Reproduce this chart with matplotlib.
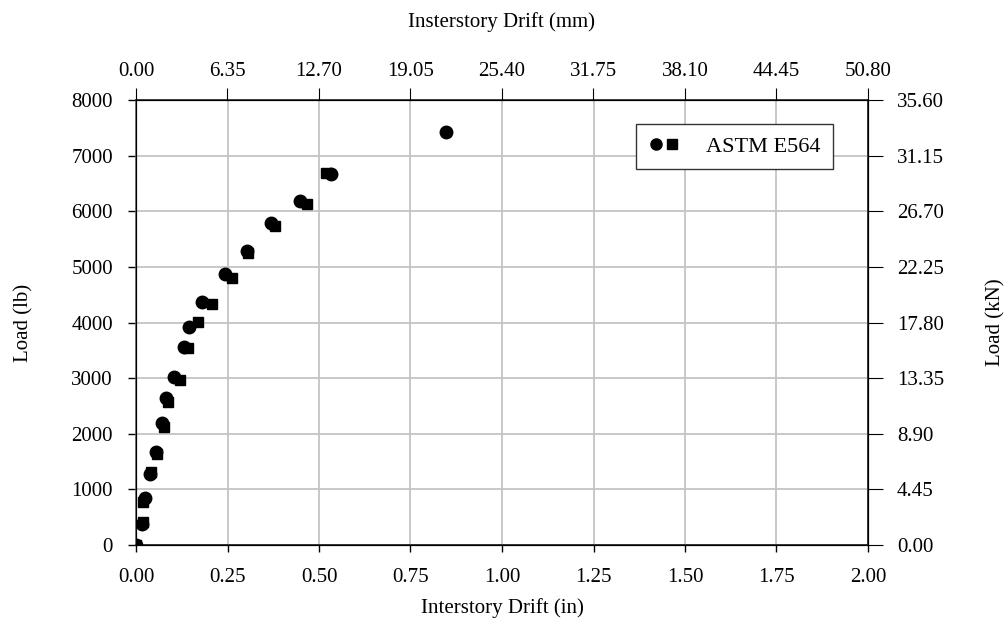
import matplotlib
matplotlib.use("Agg")
import matplotlib.pyplot as plt
from matplotlib.legend_handler import HandlerTuple
from matplotlib.lines import Line2D

plt.rcParams['font.family'] = ['Liberation Serif', 'DejaVu Serif']

# Series 1 (circles)
circ_x = [0.0, 0.016, 0.025, 0.038, 0.055, 0.072, 0.081, 0.104, 0.132, 0.145, 0.181,
          0.243, 0.302, 0.369, 0.448, 0.532, 0.847]
circ_y = [0, 372, 840, 1277, 1678, 2199, 2649, 3026, 3566, 3925, 4374,
          4873, 5292, 5784, 6190, 6671, 7420]
# Series 2 (squares)
sq_x = [0.0, 0.020, 0.020, 0.040, 0.058, 0.077, 0.088, 0.120, 0.141, 0.169, 0.208,
        0.261, 0.307, 0.380, 0.466, 0.519]
sq_y = [0, 408, 779, 1318, 1636, 2127, 2566, 2967, 3548, 4015, 4333,
        4795, 5245, 5736, 6131, 6694]

x_ticks = [0.00, 0.25, 0.50, 0.75, 1.00, 1.25, 1.50, 1.75, 2.00]
y_ticks = [0, 1000, 2000, 3000, 4000, 5000, 6000, 7000, 8000]
mm_labels = ["0.00", "6.35", "12.70", "19.05", "25.40", "31.75", "38.10", "44.45", "50.80"]
kn_labels = ["0.00", "4.45", "8.90", "13.35", "17.80", "22.25", "26.70", "31.15", "35.60"]

FS = 15
PX = 72 / 100  # points per pixel

fig = plt.figure(figsize=(10.08, 6.37), dpi=100)
ax = fig.add_axes([136/1008, 1-545/637, 732/1008, 445/637])

ax.plot(circ_x, circ_y, linestyle='none', marker='o', color='black', markersize=9, zorder=3)
ax.plot(sq_x, sq_y, linestyle='none', marker='s', color='black', markersize=7.5, zorder=3)

ax.set_xlim(0, 2.0)
ax.set_ylim(0, 8000)
ax.set_xticks(x_ticks)
ax.set_xticklabels([f"{v:.2f}" for v in x_ticks])
ax.set_yticks(y_ticks)
ax.grid(True, color='#c4c4c4', linewidth=1.3)
ax.set_axisbelow(True)
ax.tick_params(axis='x', direction='out', length=7*PX, pad=16*PX, labelsize=FS, width=1)
ax.tick_params(axis='y', direction='out', length=8*PX, pad=15*PX, labelsize=FS, width=1)
ax.set_xlabel("Interstory Drift (in)", fontsize=FS, labelpad=11*PX)
ax.set_ylabel("Load (lb)", fontsize=FS, labelpad=38*PX)

for s in ax.spines.values():
    s.set_color('#222222')
    s.set_linewidth(1.2)
ax.spines['left'].set_color('#666666')

axt = ax.twiny()
axt.set_xlim(0, 2.0)
axt.set_xticks(x_ticks)
axt.set_xticklabels(mm_labels)
axt.tick_params(axis='x', direction='out', length=12*PX, pad=7*PX, labelsize=FS)
axt.set_xlabel("Insterstory Drift (mm)", fontsize=FS, labelpad=35*PX)

axr = ax.twinx()
axr.set_ylim(0, 8000)
axr.set_yticks(y_ticks)
axr.set_yticklabels(kn_labels)
axr.tick_params(axis='y', direction='out', length=15*PX, pad=14*PX, labelsize=FS)
axr.set_ylabel("Load (kN)", fontsize=FS, labelpad=42*PX)

h1 = Line2D([], [], linestyle='none', marker='o', color='black', markersize=8)
h2 = Line2D([], [], linestyle='none', marker='s', color='black', markersize=6.5)
leg = axr.legend([(h1, h2)], ["ASTM E564"], handler_map={tuple: HandlerTuple(ndivide=None, pad=0.05)},
                 loc='upper right', bbox_to_anchor=((833-136)/732, (545-124)/445), fontsize=16,
                 fancybox=False, edgecolor='#333333', framealpha=1, handlelength=1.4,
                 borderpad=0.55, borderaxespad=0, handletextpad=1.2)
leg.get_frame().set_linewidth(1.0)

fig.savefig("out.png", dpi=100)
